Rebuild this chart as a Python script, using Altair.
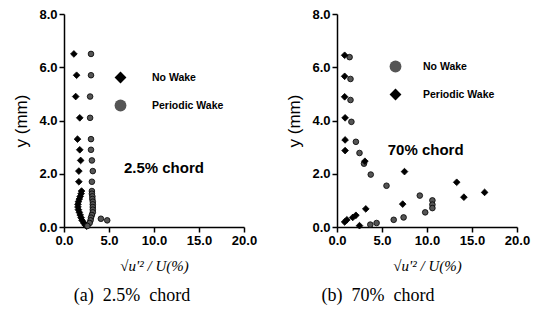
import altair as alt
import pandas as pd

# --- 2.5% chord profiles -------------------------------------------------
a_nowake_x = [1.1, 1.4, 1.3, 1.75, 1.5, 1.75, 1.85, 1.65, 1.65,
              1.95, 1.9, 1.8, 1.7, 1.6, 1.55, 1.55, 1.6, 1.7, 1.8, 1.9, 2.0, 2.2, 2.35, 2.5]
a_nowake_y = [6.5, 5.7, 4.9, 4.1, 3.3, 2.9, 2.5, 2.1, 1.7,
              1.35, 1.25, 1.15, 1.05, 0.95, 0.85, 0.75, 0.65, 0.55, 0.45, 0.35, 0.25, 0.15, 0.08, 0.03]
a_wake_x = [3.0, 3.0, 2.9, 2.9, 3.0, 3.0, 3.1, 3.2, 3.1,
            3.1, 3.1, 3.15, 3.15, 3.2, 3.2, 3.2, 3.2, 3.2, 3.1, 3.0, 2.95, 2.85, 2.6, 4.1, 4.8]
a_wake_y = [6.5, 5.7, 4.9, 4.1, 3.3, 2.9, 2.5, 2.1, 1.7,
            1.35, 1.25, 1.15, 1.05, 0.95, 0.85, 0.75, 0.65, 0.55, 0.45, 0.35, 0.25, 0.15, 0.04, 0.31, 0.25]

# --- 70% chord profiles --------------------------------------------------
b_nowake_x = [1.4, 1.5, 1.5, 1.6, 2.1, 2.5, 3.0, 3.75, 5.5, 9.2, 10.6, 10.6, 10.6, 9.8, 7.4, 6.3, 4.4, 3.7]
b_nowake_y = [6.38, 5.56, 4.77, 3.95, 3.2, 2.78, 2.38, 1.97, 1.55, 1.18, 1.0, 0.84, 0.71, 0.55, 0.36, 0.27, 0.15, 0.09]
b_wake_x = [0.85, 0.85, 0.85, 0.9, 0.9, 0.9, 3.1, 7.5, 13.3, 14.1, 16.4, 7.3, 3.2, 2.1, 1.75, 1.1, 0.85, 2.5]
b_wake_y = [6.45, 5.66, 4.89, 4.1, 3.27, 2.87, 2.47, 2.08, 1.68, 1.12, 1.3, 0.86, 0.68, 0.44, 0.36, 0.27, 0.19, 0.05]

series = ["No Wake", "Periodic Wake"]
x_ticks = [0, 2.5, 5, 7.5, 10, 12.5, 15, 17.5, 20]
y_ticks = [0, 2, 4, 6, 8]

SANS = "Liberation Sans Narrow, Liberation Sans, Arial"
SERIF = "Liberation Serif, Times New Roman"
NB = "\u00a0"


def frame(nx, ny, wx, wy):
    return pd.concat([
        pd.DataFrame({"x": nx, "y": ny, "s": series[0]}),
        pd.DataFrame({"x": wx, "y": wy, "s": series[1]}),
    ], ignore_index=True)


def panel(df, shapes, fills, sizes, label, ann_x, ann_y, caption, cap_dx, leg_x, leg_y, leg_off):
    base = alt.Chart(df)
    pts = base.mark_point(filled=True, stroke="black", strokeWidth=0.8, opacity=1).encode(
        x=alt.X("x:Q",
                scale=alt.Scale(domain=[0, 20], nice=False, zero=True),
                axis=alt.Axis(values=x_ticks,
                              labelExpr="datum.value % 5 == 0 ? format(datum.value, '.1f') : ''",
                              title="√u'² / U(%)",
                              titleFont=SERIF, titleFontStyle="italic", titleFontWeight="normal",
                              titleFontSize=15, titlePadding=11)),
        y=alt.Y("y:Q",
                scale=alt.Scale(domain=[0, 8], nice=False),
                axis=alt.Axis(values=y_ticks, format=".1f", title="y (mm)",
                              titleFont="Liberation Sans", titleFontWeight="normal",
                              titleFontSize=17, titlePadding=8)),
        shape=alt.Shape("s:N", scale=alt.Scale(domain=series, range=shapes),
                        legend=alt.Legend(title=None, orient="none", legendX=leg_x, legendY=leg_y,
                                          symbolSize=140, symbolStrokeWidth=1, rowPadding=11,
                                          labelOffset=leg_off, labelFont=SANS, labelFontWeight="bold",
                                          labelFontSize=10.5, padding=0, symbolStrokeColor="black")),
        fill=alt.Fill("s:N", scale=alt.Scale(domain=series, range=fills), legend=None),
        size=alt.Size("s:N", scale=alt.Scale(domain=series, range=sizes), legend=None),
    )
    ann = alt.Chart(pd.DataFrame({"x": [ann_x], "y": [ann_y], "t": [label]})).mark_text(
        font=SANS, fontWeight="bold", fontSize=15, color="black", align="center", baseline="middle"
    ).encode(x="x:Q", y="y:Q", text="t:N")
    return alt.layer(pts, ann).resolve_scale(shape="independent", fill="independent").properties(
        width=180, height=213,
        title=alt.TitleParams(text=caption, orient="bottom", anchor="middle", font=SERIF,
                              fontSize=18, fontWeight="normal", color="black", dx=cap_dx, offset=14),
    )


left = panel(frame(a_nowake_x, a_nowake_y, a_wake_x, a_wake_y),
             ["diamond", "circle"], ["#000000", "#555555"], [45, 32],
             "2.5% chord", 11.1, 2.2, f"(a){NB}{NB}2.5%{NB}{NB}chord", -22, 50, 57, 25)
right = panel(frame(b_nowake_x, b_nowake_y, b_wake_x, b_wake_y),
              ["circle", "diamond"], ["#555555", "#000000"], [32, 45],
              "70% chord", 9.85, 2.9, f"(b){NB}{NB}70%{NB}{NB}chord", -49, 52, 46, 21)

chart = alt.hconcat(left, right, spacing=28).resolve_scale(
    shape="independent", fill="independent", size="independent"
).resolve_legend(shape="independent").configure_view(stroke=None).configure_axis(
    grid=False, domainColor="black", domainWidth=1.5, tickColor="black", tickWidth=1.5,
    tickSize=5, labelFont="Liberation Sans", labelFontWeight="bold", labelFontSize=13,
    labelColor="black", titleColor="black", labelPadding=2, labelFlush=False,
).properties(padding={"left": 12, "top": 8, "right": 4, "bottom": 4}, background="white")

chart.save("out.html", embed_options={"renderer": "svg", "actions": False})
